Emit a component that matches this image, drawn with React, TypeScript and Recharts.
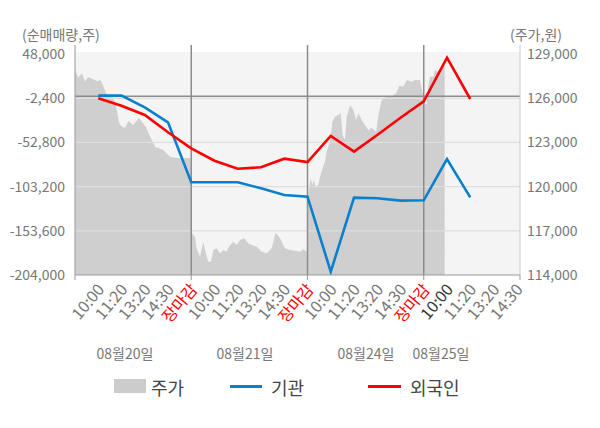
import React from "react";
import {
  ComposedChart,
  Area,
  Line,
  XAxis,
  YAxis,
  ReferenceLine,
} from "recharts";

// ---- data ----
const slotLabels = [
  "10:00", "11:20", "13:20", "14:30", "장마감",
  "10:00", "11:20", "13:20", "14:30", "장마감",
  "10:00", "11:20", "13:20", "14:30", "장마감",
  "10:00", "11:20", "13:20", "14:30",
];
const dayLabels = ["08월20일", "08월21일", "08월24일", "08월25일"];

const lineSlots = [1, 2, 3, 4, 5, 6, 7, 8, 9, 10, 11, 12, 13, 14, 15, 16, 17];
const institution = [
  600, 600, -12700, -29800, -98250,
  -98250, -98250, -105100, -112740, -114680,
  -200240, -115800, -116500, -119200, -118800,
  -71670, -115400,
];
const foreigner = [
  -2420, -10850, -21470, -41200, -59460,
  -73600, -82740, -81140, -71330, -75090,
  -45400, -63300, -44300, -24550, -5800,
  43900, -3220,
];

const priceSlot = [
  0, 0.14, 0.29, 0.43, 0.57, 0.79, 0.95, 1.1, 1.2, 1.36, 1.65, 1.78, 1.9, 2.0, 2.15, 2.3, 2.5, 2.75, 2.9, 3.05, 3.2, 3.45, 3.6, 3.8, 4.1, 4.4, 4.97,
  5.0, 5.03, 5.09, 5.16, 5.23, 5.38, 5.52, 5.59, 5.73, 5.85, 5.95, 6.09, 6.24, 6.38, 6.52, 6.62, 6.81, 6.95, 7.1, 7.28, 7.45, 7.6, 7.82, 8.03, 8.25, 8.46, 8.63, 8.82, 9.03, 9.25, 9.46, 9.68, 9.82, 9.97,
  10.0, 10.05, 10.14, 10.21, 10.28, 10.35, 10.46, 10.54, 10.61, 10.75, 10.82, 10.97, 11.07, 11.18, 11.32, 11.43, 11.51, 11.61, 11.69, 11.83, 11.97, 12.09, 12.19, 12.33, 12.47, 12.62, 12.76, 12.95, 13.05, 13.19, 13.41, 13.62, 13.81, 13.95, 14.12, 14.27, 14.48, 14.62, 14.84, 14.97,
  15.0, 15.05, 15.12, 15.2, 15.27, 15.42, 15.48, 15.63, 15.77, 15.9,
];
const priceValue = [
  127920, 127380, 127720, 127150, 127450, 127300, 127150, 127240, 126900, 126220, 126020, 125340, 124320, 124100, 123980, 124460, 124190, 124660, 124350, 124050, 123510, 122700, 122630, 122490, 122020, 121950, 121950,
  119430, 116830, 116720, 116600, 115810, 115240, 116260, 115700, 114900, 114900, 115700, 115810, 115470, 115700, 115580, 115920, 116260, 116040, 116380, 116490, 116150, 116040, 115920, 115580, 115470, 115810, 116870, 116490, 115810, 115700, 115650, 115580, 115750, 115580,
  118300, 119660, 120570, 120110, 120450, 120000, 120110, 120680, 121020, 121690, 122370, 123050, 124410, 124750, 124860, 124980, 123510, 123170, 124750, 125540, 125200, 124520, 124980, 124520, 124190, 123850, 124000, 123730, 124860, 125880, 126110, 126110, 126340, 126850, 126790, 127240, 127130, 127240, 127240, 126220,
  126000, 125660, 125540, 126900, 127470, 127470, 127920, 127800, 128140, 128210,
];

const leftTicks = [-204000, -153600, -103200, -52800, -2400, 48000];
const rightTicks = [114000, 117000, 120000, 123000, 126000, 129000];
const dayEnds = [5, 10, 15];
const lastSlot = 19.14;

// ---- build table ----
type Row = { x: number; price?: number; inst?: number; frgn?: number };
const rowMap = new Map<number, Row>();
priceSlot.forEach((s, i) => {
  rowMap.set(s, { x: s, price: priceValue[i] });
});
lineSlots.forEach((s, i) => {
  const r = rowMap.get(s) || { x: s };
  r.inst = institution[i];
  r.frgn = foreigner[i];
  rowMap.set(s, r);
});
const tableData = Array.from(rowMap.values()).sort((a, b) => a.x - b.x);

const xTicks = [0, ...slotLabels.map((_, i) => i + 1), lastSlot];

const FONT = '"Noto Sans CJK KR", "Noto Sans", sans-serif';
const AXIS_Y = 275;

const XTick = (props: any) => {
  const { x, payload } = props;
  const v = payload.value as number;
  const isBoundary = v === 0 || dayEnds.includes(v) || v === lastSlot;
  const idx = Number.isInteger(v) ? v - 1 : -1;
  const label = idx >= 0 && idx < slotLabels.length ? slotLabels[idx] : null;
  let color = "#777";
  if (label === "장마감") color = "#ff0000";
  else if (idx === 15) color = "#333";
  const ax = x + 7;
  const ay = AXIS_Y + 15;
  return (
    <g>
      {isBoundary && (
        <line x1={x} x2={x} y1={AXIS_Y} y2={AXIS_Y + 5} stroke="#999" strokeWidth={1} />
      )}
      {label && (
        <text
          x={ax}
          y={ay}
          textAnchor="end"
          fill={color}
          fontSize={16}
          fontFamily={FONT}
          transform={`rotate(-50, ${ax}, ${ay})`}
        >
          {label}
        </text>
      )}
    </g>
  );
};

const fmt = (v: number) => v.toLocaleString("en-US");

const dayLabelX = [125, 245, 366, 441];

export default function App() {
  return (
    <div
      style={{
        position: "absolute",
        left: 0,
        top: 0,
        width: 600,
        height: 428,
        background: "#fff",
        fontFamily: FONT,
        overflow: "hidden",
      }}
    >
      <div
        style={{
          position: "absolute",
          left: 75,
          top: 52,
          width: 445,
          height: 223,
          background: "#f4f4f4",
        }}
      />
      <div
        style={{
          position: "absolute",
          left: 22,
          top: 24,
          fontSize: 14,
          lineHeight: "20px",
          color: "#777",
          whiteSpace: "nowrap",
        }}
      >
        (순매매량,주)
      </div>
      <div
        style={{
          position: "absolute",
          right: 38,
          top: 24,
          fontSize: 14,
          lineHeight: "20px",
          color: "#777",
          whiteSpace: "nowrap",
        }}
      >
        (주가,원)
      </div>
      <div style={{ position: "absolute", left: 0, top: 0 }}>
        <ComposedChart
          width={600}
          height={428}
          data={tableData}
          margin={{ top: 45, right: 0, bottom: 0, left: 10 }}
        >
          <XAxis
            xAxisId="x"
            type="number"
            dataKey="x"
            domain={[0, lastSlot]}
            allowDataOverflow
            ticks={xTicks}
            interval={0}
            tickLine={false}
            tickSize={0}
            tickMargin={0}
            height={153}
            axisLine={{ stroke: "#999" }}
            tick={<XTick />}
          />
          <YAxis
            yAxisId="left"
            orientation="left"
            width={65}
            domain={[-204000, 58381]}
            allowDataOverflow
            ticks={leftTicks}
            interval={0}
            tickLine={false}
            tickMargin={4}
            tickFormatter={fmt}
            axisLine={{ stroke: "#999" }}
            tick={{ fill: "#777", fontSize: 14, fontFamily: FONT }}
          />
          <YAxis
            yAxisId="right"
            orientation="right"
            width={80}
            domain={[114000, 129618]}
            allowDataOverflow
            ticks={rightTicks}
            interval={0}
            tickLine={false}
            tickMargin={1}
            tickFormatter={fmt}
            axisLine={{ stroke: "#ccc" }}
            tick={{ fill: "#777", fontSize: 14, fontFamily: FONT, textAnchor: "start" }}
          />
          <Area
            xAxisId="x"
            yAxisId="right"
            type="linear"
            dataKey="price"
            stroke="none"
            fill="#cfcfcf"
            fillOpacity={1}
            connectNulls
            dot={false}
            activeDot={false}
            isAnimationActive={false}
          />
          {leftTicks.slice(1, 5).map((t) => (
            <ReferenceLine
              key={t}
              xAxisId="x"
              yAxisId="left"
              y={t}
              stroke="#dedede"
              strokeWidth={1.2}
            />
          ))}
          <ReferenceLine xAxisId="x" yAxisId="left" y={0} stroke="#8c8c8c" strokeWidth={1.5} />
          {dayEnds.map((d) => (
            <ReferenceLine
              key={d}
              xAxisId="x"
              yAxisId="left"
              x={d}
              stroke="#8c8c8c"
              strokeWidth={1.5}
            />
          ))}
          <Line
            xAxisId="x"
            yAxisId="left"
            type="linear"
            dataKey="inst"
            stroke="#0a80cc"
            strokeWidth={2.6}
            dot={false}
            activeDot={false}
            connectNulls
            isAnimationActive={false}
          />
          <Line
            xAxisId="x"
            yAxisId="left"
            type="linear"
            dataKey="frgn"
            stroke="#ff0000"
            strokeWidth={2.6}
            dot={false}
            activeDot={false}
            connectNulls
            isAnimationActive={false}
          />
        </ComposedChart>
      </div>
      {dayLabels.map((d, i) => (
        <div
          key={d}
          style={{
            position: "absolute",
            left: dayLabelX[i],
            top: 344,
            transform: "translateX(-50%)",
            fontSize: 14,
            lineHeight: "18px",
            color: "#777",
            whiteSpace: "nowrap",
          }}
        >
          {d}
        </div>
      ))}
      {/* legend */}
      <div style={{ position: "absolute", left: 114, top: 379, width: 32, height: 14, background: "#cccccc" }} />
      <div style={{ position: "absolute", left: 151, top: 375, fontSize: 18, lineHeight: "24px", color: "#444" }}>주가</div>
      <div style={{ position: "absolute", left: 230, top: 385, width: 32, height: 3, background: "#0a80cc" }} />
      <div style={{ position: "absolute", left: 271, top: 375, fontSize: 18, lineHeight: "24px", color: "#444" }}>기관</div>
      <div style={{ position: "absolute", left: 368, top: 385, width: 33, height: 3, background: "#ff0000" }} />
      <div style={{ position: "absolute", left: 410, top: 375, fontSize: 18, lineHeight: "24px", color: "#444" }}>외국인</div>
    </div>
  );
}
